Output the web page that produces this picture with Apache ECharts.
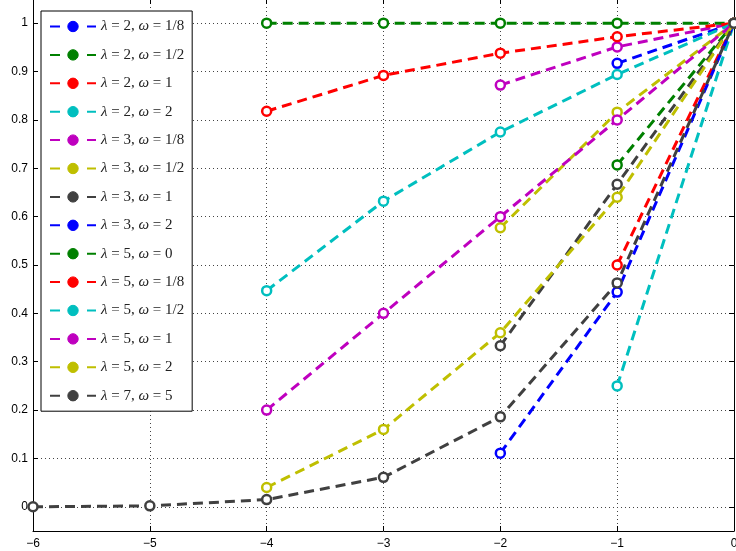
<!DOCTYPE html>
<html>
<head>
<meta charset="utf-8">
<script src="https://cdn.jsdelivr.net/npm/echarts@6/dist/echarts.min.js"></script>
<style>html,body{margin:0;padding:0;background:#fff}#c{width:736px;height:551px}</style>
</head>
<body>
<div id="c"></div>
<script>
// ---- data ----
const names = [
  'λ = 2, ω = 1/8', 'λ = 2, ω = 1/2', 'λ = 2, ω = 1', 'λ = 2, ω = 2',
  'λ = 3, ω = 1/8', 'λ = 3, ω = 1/2', 'λ = 3, ω = 1', 'λ = 3, ω = 2',
  'λ = 5, ω = 0', 'λ = 5, ω = 1/8', 'λ = 5, ω = 1/2', 'λ = 5, ω = 1',
  'λ = 5, ω = 2', 'λ = 7, ω = 5'
];
const xL2 = [-1, 0];
const xL3 = [-2, -1, 0];
const xL5 = [-4, -3, -2, -1, 0];
const xL7 = [-6, -5, -4, -3, -2, -1, 0];

const yL2w18 = [0.917, 1];
const yL2w12 = [0.707, 1];
const yL2w1  = [0.5, 1];
const yL2w2  = [0.25, 1];
const yL3w18 = [0.872, 0.951, 1];
const yL3w12 = [0.577, 0.816, 1];
const yL3w1  = [0.333, 0.667, 1];
const yL3w2  = [0.111, 0.444, 1];
const yL5w0  = [1, 1, 1, 1, 1];
const yL5w18 = [0.818, 0.892, 0.938, 0.972, 1];
const yL5w12 = [0.447, 0.632, 0.775, 0.894, 1];
const yL5w1  = [0.2, 0.4, 0.6, 0.8, 1];
const yL5w2  = [0.04, 0.16, 0.36, 0.64, 1];
const yL7w5  = [0.0001, 0.002, 0.015, 0.061, 0.186, 0.463, 1];

const seriesX = [xL2, xL2, xL2, xL2, xL3, xL3, xL3, xL3, xL5, xL5, xL5, xL5, xL5, xL7];
const seriesY = [yL2w18, yL2w12, yL2w1, yL2w2, yL3w18, yL3w12, yL3w1, yL3w2,
                 yL5w0, yL5w18, yL5w12, yL5w1, yL5w2, yL7w5];

const xTicks = { min: -6, max: 0, interval: 1 };
const yRange = { min: -0.05, max: 1.05 };

// ---- styles ----
const colors = ['#0000ff', '#008000', '#ff0000', '#00bfbf', '#bf00bf', '#bfbf00', '#404040',
                '#0000ff', '#008000', '#ff0000', '#00bfbf', '#bf00bf', '#bfbf00', '#404040'];

const series = names.map((n, i) => ({
  name: n,
  type: 'line',
  data: seriesX[i].map((x, k) => [x, seriesY[i][k]]),
  symbol: 'circle',
  symbolSize: 9,
  color: colors[i],
  itemStyle: { color: '#fff', borderColor: colors[i], borderWidth: 2.5 },
  lineStyle: { color: colors[i], width: 3, type: [10, 6] },
  emphasis: { disabled: true },
  animation: false
}));

const chart = echarts.init(document.getElementById('c'), null, { renderer: 'canvas' });
const axisFont = { fontFamily: 'Liberation Sans, Arial, sans-serif', fontSize: 12, color: '#000' };
chart.setOption({
  animation: false,
  grid: { left: 33, right: 2, top: -1, bottom: 20, containLabel: false, outerBoundsMode: 'none' },
  xAxis: [{
    type: 'value', min: xTicks.min, max: xTicks.max, interval: xTicks.interval,
    axisLine: { onZero: false, lineStyle: { color: '#000', width: 1 } },
    axisTick: { inside: true, length: 5, lineStyle: { color: '#000' } },
    axisLabel: Object.assign({ margin: 7, formatter: v => String(v).replace('-', '−') }, axisFont),
    splitLine: { show: true, lineStyle: { color: '#444', type: [1, 3], width: 1 } }
  }, {
    type: 'value', position: 'top', min: xTicks.min, max: xTicks.max, interval: xTicks.interval,
    axisLine: { onZero: false, lineStyle: { color: '#000', width: 1 } },
    axisTick: { inside: true, length: 5, lineStyle: { color: '#000' } },
    axisLabel: { show: false }, splitLine: { show: false }
  }],
  yAxis: [{
    type: 'value', min: yRange.min, max: yRange.max, splitNumber: 11,
    axisLine: { onZero: false, lineStyle: { color: '#000', width: 1 } },
    axisTick: { inside: true, length: 5, lineStyle: { color: '#000' } },
    axisLabel: Object.assign({ margin: 5, showMinLabel: false, showMaxLabel: false }, axisFont),
    splitLine: { show: true, lineStyle: { color: '#444', type: [1, 3], width: 1 } }
  }, {
    type: 'value', position: 'right', min: yRange.min, max: yRange.max, splitNumber: 11,
    axisLine: { onZero: false, lineStyle: { color: '#000', width: 1 } },
    axisTick: { inside: true, length: 5, lineStyle: { color: '#000' } },
    axisLabel: { show: false }, splitLine: { show: false }
  }],
  legend: {
    orient: 'vertical', left: 41, top: 11,
    padding: [8, 8, 8, 8],
    backgroundColor: '#fff', borderColor: '#000', borderWidth: 1,
    itemWidth: 46, itemHeight: 13, itemGap: 13.4,
    lineStyle: { type: [10, 27] },
    selectedMode: false,
    data: names.map((n, i) => ({ name: n, itemStyle: { color: colors[i], borderColor: colors[i], borderWidth: 1 } })),
    formatter: n => n.replace(/λ/g, '{i|λ}').replace(/ω/g, '{i|ω}'),
    textStyle: {
      fontFamily: 'Liberation Serif, serif', fontSize: 15, color: '#222', lineHeight: 13,
      rich: { i: { fontFamily: 'Liberation Serif, serif', fontStyle: 'italic', fontSize: 15, color: '#222', lineHeight: 13 } }
    }
  },
  series: series
});
</script>
</body>
</html>
